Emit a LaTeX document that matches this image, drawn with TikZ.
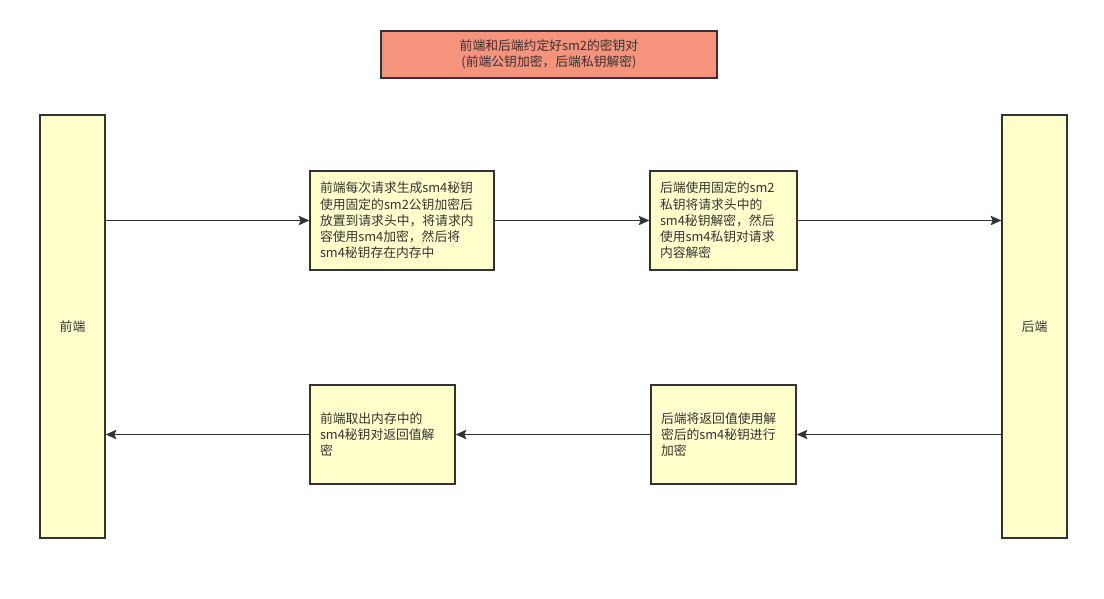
\documentclass[tikz,border=0pt]{standalone}
\usepackage{fontspec}
\setmainfont{Noto Sans CJK SC}
\usetikzlibrary{arrows.meta}
\definecolor{ink}{HTML}{333333}
\definecolor{paleyellow}{HTML}{FFFFCC}
\definecolor{salmon}{HTML}{F5937C}
\begin{document}
\begin{tikzpicture}[x=0.75pt,y=-0.75pt,
  every node/.style={font=\fontsize{9.6pt}{12.2pt}\selectfont, text=ink},
  boxstyle/.style={draw=ink, line width=1pt, fill=paleyellow, minimum height=74.25pt, inner xsep=7.5pt, inner ysep=0pt, align=left},
  tallbox/.style={draw=ink, line width=1pt, fill=paleyellow, minimum width=48.75pt, minimum height=317.25pt, inner sep=0pt},
  titlebox/.style={draw=ink, line width=1pt, fill=salmon, minimum width=252pt, minimum height=35.25pt, inner sep=0pt, align=center},
  conn/.style={draw=ink, line width=1.1pt, -{Stealth[length=8pt,width=7pt,inset=1.5pt]}}
]
\useasboundingbox (0,0) rectangle (1104,599);
\node[titlebox] (title) at (549,54.5) {前端和后端约定好sm2的密钥对\\(前端公钥加密，后端私钥解密)};
\node[tallbox] (fe) at (72.5,326.5) {前端};
\node[tallbox] (be) at (1034.5,326.5) {后端};
\node[boxstyle, text width=123pt] (b1) at (402,220.5) {前端每次请求生成sm4秘钥\\使用固定的sm2公钥加密后\\放置到请求头中，将请求内\\容使用sm4加密，然后将\\sm4秘钥存在内存中};
\node[boxstyle, text width=95.25pt] (b2) at (723.5,220.5) {后端使用固定的sm2\\私钥将请求头中的\\sm4秘钥解密，然后\\使用sm4私钥对请求\\内容解密};
\node[boxstyle, text width=93.75pt] (b3) at (382.5,434.5) {前端取出内存中的\\sm4秘钥对返回值解\\密};
\node[boxstyle, text width=93.75pt] (b4) at (723.5,434.5) {后端将返回值使用解\\密后的sm4秘钥进行\\加密};
\draw[conn] (fe.east |- b1.west) -- (b1.west);
\draw[conn] (b1.east) -- (b2.west);
\draw[conn] (b2.east) -- (be.west |- b2.east);
\draw[conn] (be.west |- b4.east) -- (b4.east);
\draw[conn] (b4.west) -- (b3.east);
\draw[conn] (b3.west) -- (fe.east |- b3.west);
\end{tikzpicture}
\end{document}
